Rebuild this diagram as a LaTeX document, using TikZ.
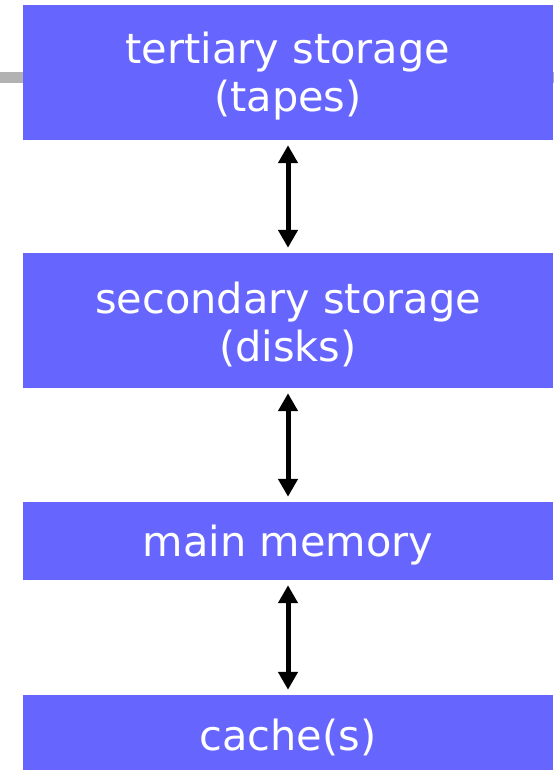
\documentclass[tikz,border=0pt]{standalone}
\usepackage{fontspec}
\setmainfont{DejaVu Sans}
\usetikzlibrary{arrows.meta}
\definecolor{boxblue}{HTML}{6666FF}
\begin{document}
\begin{tikzpicture}[x=1pt, y=-1pt,
  level/.style={fill=boxblue, minimum width=530pt, inner sep=0pt},
  caption/.style={text=white, align=center, yshift=-4pt,
    font=\fontsize{41.5}{48}\selectfont},
  link/.style={line width=5pt,
    {Triangle[width=19pt,length=18pt]}-{Triangle[width=19pt,length=18pt]},
    shorten >=5pt, shorten <=5pt}]
  \useasboundingbox (0,0) rectangle (554,770);

  % grey rule behind the top box
  \fill[gray!60] (0,72) rectangle (554,83);

  \node[level, minimum height=135pt, label={[caption]center:{tertiary storage\\(tapes)}}] (tertiary) at (288,72.5) {};
  \node[level, minimum height=135pt, label={[caption]center:{secondary storage\\(disks)}}] (secondary) at (288,320.5) {};
  \node[level, minimum height=78pt, label={[caption]center:main memory}] (main) at (288,541) {};
  \node[level, minimum height=76pt, label={[caption]center:cache(s)}] (cache) at (288,733) {};

  \foreach \a/\b in {tertiary/secondary, secondary/main, main/cache}
    \draw[link] (\a) -- (\b);
\end{tikzpicture}
\end{document}
